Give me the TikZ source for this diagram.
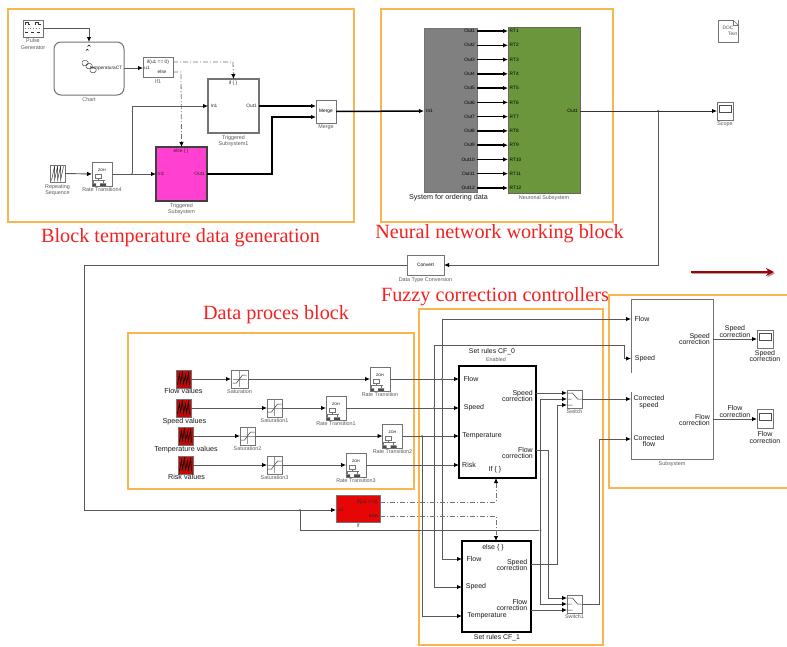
\documentclass[tikz,border=0pt]{standalone}
\usepackage{fontspec}
\setmainfont{Liberation Sans}
\newfontfamily\titlefont{Liberation Serif}
\usepackage{xcolor}
\usepackage{tikz}
\usetikzlibrary{arrows.meta,positioning,calc}

\definecolor{framecol}{HTML}{F9B54E}
\definecolor{titlecol}{HTML}{F52020}
\definecolor{pinkcol}{HTML}{FF40D0}
\definecolor{redcol}{HTML}{E60606}
\definecolor{srccol}{HTML}{C40808}
\definecolor{greycol}{HTML}{808080}
\definecolor{greencol}{HTML}{6B963C}
\newcommand{\zoh}{\raisebox{8pt}{\fontsize{3.6}{4}\selectfont ZOH}}

\begin{document}
\begin{tikzpicture}[x=1pt, y=-1pt,
  frame/.style={draw=framecol, line width=1.3pt},
  title/.style={text=titlecol, font=\titlefont\fontsize{20.2}{22}\selectfont, inner sep=0pt},
  box/.style={draw=black!55, line width=1pt, fill=white, inner sep=0pt, outer sep=0pt, align=center,
              font=\fontsize{4.8}{6}\selectfont},
  heavy/.style={box, draw=black, line width=2pt},
  lab/.style={inner sep=0pt, align=center, text=black!65, font=\fontsize{5.4}{6.6}\selectfont},
  dark/.style={inner sep=0pt, align=center, text=black!90, font=\fontsize{7.2}{8}\selectfont},
  port/.style={inner sep=0pt, align=right, text=black!85, font=\fontsize{4.8}{6}\selectfont},
  portb/.style={inner sep=0pt, align=right, text=black!90, font=\fontsize{7}{6.6}\selectfont},
  dot/.style={circle, fill=black!75, inner sep=0pt, minimum size=2pt},
  sig/.style={draw=black!65, line width=.9pt, -{Latex[length=5pt,width=4.5pt,color=black]}},
  wire/.style={draw=black!65, line width=.9pt},
  bold/.style={draw=black, line width=1.5pt, -{Latex[length=5pt,width=4.5pt,color=black]}},
  ctrl/.style={draw=black!55, line width=.8pt, dash pattern=on 5pt off 2pt on 1pt off 2pt,
               -{Latex[length=5pt,width=4.5pt,color=black]}},
  ratebox/.style={box, minimum width=20pt, minimum height=24pt, path picture={
    \begin{scope}[shift={(path picture bounding box.center)}, line width=.5pt]
      \draw (-3,-5) rectangle (3,-1) (0,-1) -- (0,1) (-7,1) -- (7,1) (-5,1) -- (-5,4) (5,1) -- (5,4);
      \fill[black!70] (-8,4) rectangle (-2,9) (2,4) rectangle (8,9);
    \end{scope}}},
  satbox/.style={box, minimum width=15pt, minimum height=18pt, path picture={
    \begin{scope}[shift={(path picture bounding box.center)}, line width=.5pt]
      \draw[black!40] (0,-8) -- (0,8) (-7,0) -- (7,0);
      \draw[black!80] (-7,4) -- (-3,4) -- (3,-4) -- (7,-4);
    \end{scope}}},
  srcbox/.style={box, fill=srccol, minimum width=15pt, minimum height=18pt, path picture={
    \begin{scope}[shift={(path picture bounding box.center)}, line width=.6pt]
      \draw[black] (-6,6) -- (-4,-5) -- (-3,4) -- (-1,-7) -- (0,5) -- (2,-4) -- (3,5) -- (5,-6) -- (6,6);
    \end{scope}}},
  sawbox/.style={box, minimum width=15pt, minimum height=17pt, path picture={
    \begin{scope}[shift={(path picture bounding box.center)}, line width=.5pt]
      \draw[black!80] (-6,7) -- (-3,-7) -- (-3,7) -- (0,-7) -- (0,7) -- (3,-7) -- (3,7) -- (6,-7);
    \end{scope}}},
  pulsebox/.style={box, minimum width=20pt, minimum height=17pt, path picture={
    \begin{scope}[shift={(path picture bounding box.center)}, line width=.7pt]
      \draw[black!80] (-8,-4) |- (-5,-6) |- (-3,-4) (2,-4) |- (5,-6) |- (8,-4);
      \draw[black!50, dotted] (-8,0) -- (8,0);
      \draw[black!80, line width=1pt] (-8,4) -- (-5,4) (-2,4) -- (1,4) (4,4) -- (7,4);
    \end{scope}}},
  swbox/.style={box, minimum width=15pt, minimum height=18pt, path picture={
    \begin{scope}[shift={(path picture bounding box.center)}, line width=.5pt]
      \draw[black!80] (-7,-6) -- (-2,-6) (-7,6) -- (-2,6) (-7,0) -- (-3,0) (-2,-6) -- (3,0) -- (7,0);
    \end{scope}}},
  scopebox/.style={box, minimum width=16pt, minimum height=18pt, path picture={
    \begin{scope}[shift={(path picture bounding box.center)}, line width=.6pt]
      \draw[black!70] (-6,-6) rectangle (6,1);
    \end{scope}}},
  chartbox/.style={box, rounded corners=7pt, minimum width=70pt, minimum height=53pt, path picture={
    \begin{scope}[shift={(path picture bounding box.center)}, line width=.5pt]
      \draw[black!70, rounded corners=1.5pt] (-7,-8) rectangle (-1,-3) (-3,-5) rectangle (3,0) (1,-1) rectangle (7,4);
      \draw[black] (-1.5,-22) arc (180:360:1.5) (-3,-18) arc (180:360:1.2);
    \end{scope}}}
]
\useasboundingbox (0,0) rectangle (787,646);

% orange frames
\draw[frame] (8,9) rectangle (354,222);
\draw[frame] (381,9) rectangle (613,222);
\draw[frame] (128,333) rectangle (414,489);
\draw[frame] (419,309) rectangle (603,645);
\coordinate (frameNE) at (787,295);
\coordinate (frameSE) at (787,488);
\draw[frame] (frameNE) -- (609,295) -- (609,488) -- (frameSE);

% block temperature data generation
\node[pulsebox] (pulse) at (33,28.5) {};
\node[lab, below=1.5pt of pulse] (pulselab) {Pulse\\Generator};
\node[chartbox] (chart) at (89,68.5) {};
\node[port, anchor=east] (chartout) at (122.5,68) {temperaturaCT};
\node[lab, below=2pt of chart] (chartlab) {Chart};
\node[box, minimum width=30pt, minimum height=20pt] (ifone) at (158,67) {};
\node[port] (ifonecond) at (158,62) {if(u1 == 0)};
\node[port] (ifoneelse) at (162,72) {else};
\node[port] (ifoneu) at (147,68) {u1};
\node[lab, below=2pt of ifone] (ifonelab) {If1};
\node[box, line width=1.4pt, minimum width=51pt, minimum height=54pt] (trigone) at (233.5,106) {};
\node[port] (trigonetop) at (233,83.5) {if \{ \}};
\node[port] (trigonein) at (214,106) {In1};
\node[port, anchor=east] (trigoneout) at (257,106) {Out1};
\node[lab, below=2pt of trigone] (trigonelab) {Triggered\\Subsystem1};
\node[box, fill=pinkcol, draw=black!75, line width=1.4pt, minimum width=51pt, minimum height=54pt] (trigger) at (181.5,174) {};
\node[port] (triggertop) at (181,151) {else \{ \}};
\node[port] (triggerin) at (161,174) {In1};
\node[port, anchor=east] (triggerout) at (205,174) {Out1};
\node[lab, below=2pt of trigger] (triggerlab) {Triggered\\Subsystem};
\node[box, minimum width=20pt, minimum height=23pt] (merge) at (326,111.5) {Merge};
\node[lab, below=2pt of merge] (mergelab) {Merge};
\node[sawbox] (repeating) at (57.5,173.5) {};
\node[lab, below=2pt of repeating] (repeatinglab) {Repeating\\Sequence};
\node[ratebox] (ratefour) at (102,174) {\zoh};
\node[lab, below=1pt of ratefour] (ratefourlab) {Rate Transition4};
\node[dot] (jrate) at (132,174) {};
\coordinate (ifbend) at (233,62);
\coordinate (elsebend) at (181,72);
\coordinate (mergetop) at (316,106);
\coordinate (mergelow) at (316,117);
\coordinate (pulsebend) at (89,28.5);
\coordinate (pinkbend) at (272,174);

\draw[sig] (pulse.east) -- (pulsebend) -- (chart.north);
\draw[sig] (chart.east |- ifoneu) -- (ifone.west |- ifoneu);
\draw[ctrl] (ifone.east |- ifonecond) -- (ifbend) -- (trigone.north);
\draw[ctrl] (ifone.east |- ifoneelse) -- (elsebend) -- (trigger.north);
\draw[sig] (repeating.east) -- (ratefour.west);
\draw[sig] (ratefour.east) -- (trigger.west);
\draw[sig] (jrate) |- (trigone.west);
\draw[bold] (trigone.east) -- (mergetop);
\draw[bold] (trigger.east) -- (pinkbend) |- (mergelow);

% neural network working block
\node[box, fill=greycol, minimum width=53pt, minimum height=164pt] (ordering) at (450.5,110) {};
\node[box, fill=greencol, draw=black!60, minimum width=72pt, minimum height=166pt] (neuronal) at (544,110) {};
\node[port, anchor=west, text=black] (orderingin) at (426,111) {In1};
\node[port, anchor=east, text=black] (neuronalout) at (578,111) {Out1};
\foreach \i in {1,...,12} {
  \node[port, anchor=east, text=black] (out\i) at (475,{31+14.27*(\i-1)}) {Out\i};
  \node[port, anchor=west, text=black] (rt\i) at (509.5,{31+14.27*(\i-1)}) {RT\i};
  \draw[bold] (ordering.east |- out\i) -- (neuronal.west |- rt\i);
}
\node[lab, text=black!90, font=\fontsize{7.2}{8}\selectfont, below=2.5pt of ordering, xshift=-2pt] (orderinglab) {System for ordering data};
\node[lab, below=2pt of neuronal] (neuronallab) {Neuronal Subsystem};
\draw[bold] (merge.east) -- (ordering.west |- orderingin);

\node[scopebox] (scope) at (725,111) {};
\node[lab, below=2pt of scope] (scopelab) {Scope};
\node[box, minimum width=20pt, minimum height=22pt, text=black!70] (doc) at (728,31) {DOC\\\hspace{9pt}Text};
\fill[white] (doc.north east) -- +(-5,0) -- +(0,5) -- cycle;
\draw[black!55, line width=.6pt] ($(doc.north east)+(-5,0)$) -- +(0,5) -- +(5,5);
\draw[black!55, line width=.6pt] ($(doc.north east)+(-5,0)$) -- ($(doc.north east)+(0,5)$);
\node[dot] (jout) at (658,111) {};
\node[box, minimum width=37pt, minimum height=20pt] (convert) at (425.5,265) {Convert};
\node[lab, below=2pt of convert] (convertlab) {Data Type Conversion};
\coordinate (feedbend) at (84,510);
\draw[sig, draw=black!80] (neuronal.east |- neuronalout) -- (scope.west);
\draw[sig] (jout) |- (convert.east);

% red arrow
\coordinate (redstart) at (691,272);
\coordinate (redend) at (774,272);
\draw[draw=black!35, line width=1.6pt, -{Stealth[length=8pt,width=8pt]}] ($(redstart)+(1,1.5)$) -- ($(redend)+(1,1.5)$);
\draw[draw=red!65!black, line width=1.6pt, -{Stealth[length=8pt,width=8pt]}] (redstart) -- (redend);

% data proces block
\node[srcbox] (flowsrc) at (183.5,379) {};
\node[srcbox] (speedsrc) at (183.5,408) {};
\node[srcbox] (tempsrc) at (185.5,436) {};
\node[srcbox] (risksrc) at (185.5,465) {};
\node[dark, below=.5pt of flowsrc] (flowlab) {Flow values};
\node[dark, below=1pt of speedsrc, xshift=1pt] (speedlab) {Speed values};
\node[dark, below=1.5pt of tempsrc, xshift=.5pt] (templab) {Temperature values};
\node[dark, below=0pt of risksrc, xshift=1pt] (risklab) {Risk values};
\node[satbox, minimum width=17pt] (sat) at (239.5,379) {};
\node[satbox] (satone) at (274.5,408) {};
\node[satbox] (sattwo) at (247.5,436) {};
\node[satbox] (satthree) at (274.5,465) {};
\node[lab, below=1.5pt of sat] (satlab) {Saturation};
\node[lab, below=1.5pt of satone] (satonelab) {Saturation1};
\node[lab, below=1.5pt of sattwo] (sattwolab) {Saturation2};
\node[lab, below=1.5pt of satthree] (satthreelab) {Saturation3};
\node[ratebox] (rate) at (380,379) {\zoh};
\node[ratebox] (rateone) at (336,408) {\zoh};
\node[ratebox] (ratetwo) at (392.5,436) {\zoh};
\node[ratebox] (ratethree) at (356,465) {\zoh};
\node[lab, below=1pt of rate] (ratelab) {Rate Transition};
\node[lab, below=1pt of rateone] (rateonelab) {Rate Transition1};
\node[lab, below=1pt of ratetwo] (ratetwolab) {Rate Transition2};
\node[lab, below=1pt of ratethree] (ratethreelab) {Rate Transition3};

% if block
\node[box, fill=redcol, minimum width=44pt, minimum height=27pt] (ifred) at (358,508.5) {};
\node[port, anchor=east] (ifredcond) at (378,502) {if(u1 ==1)};
\node[port, anchor=east] (ifredelse) at (378,516) {else};
\node[port, anchor=west] (ifredu) at (338,510) {u1};
\node[lab, below=1pt of ifred] (ifredlab) {If};
\node[dot] (jif) at (300,510) {};
\draw[wire] (convert.west) -| (feedbend);
\draw[sig] (feedbend) -- (ifred.west |- feedbend);

% fuzzy correction controllers
\node[heavy, minimum width=77pt, minimum height=112pt] (cfa) at (497.5,422) {};
\node[dark, font=\fontsize{6.9}{7}\selectfont] (cfatitle) at (492,352) {Set rules CF\_0};
\node[lab] (cfaenabled) at (496,360) {Enabled};
\node[portb] (cfaflow) at (471,379) {Flow};
\node[portb] (cfaspeed) at (474,408) {Speed};
\node[portb] (cfatemp) at (482,436) {Temperature};
\node[portb] (cfarisk) at (469,464.5) {Risk};
\node[portb] (cfaif) at (495,470) {If \{ \}};
\node[portb, anchor=east] (cfaspd) at (533,396) {Speed\\correction};
\node[portb, anchor=east] (cfaflw) at (533,453) {Flow\\correction};
\node[heavy, minimum width=69pt, minimum height=91pt] (cfb) at (496.5,586.5) {};
\node[portb] (cfbelse) at (493,548) {else \{ \}};
\node[portb] (cfbflow) at (474,559) {Flow};
\node[portb] (cfbspeed) at (476,587) {Speed};
\node[portb] (cfbtemp) at (487,616) {Temperature};
\node[portb, anchor=east] (cfbspd) at (527.5,565) {Speed\\correction};
\node[portb, anchor=east] (cfbflw) at (527.5,605) {Flow\\correction};
\node[dark, font=\fontsize{6.9}{7}\selectfont] (cfbtitle) at (497,638) {Set rules CF\_1};
\node[swbox] (switcha) at (574.5,399) {};
\node[swbox] (switchb) at (574.5,604) {};
\node[lab, below=1.5pt of switcha] (switchalab) {Switch};
\node[lab, below=1.5pt of switchb] (switchblab) {Switch1};
\node[dot] (jflow) at (442,379) {};
\node[dot] (jspeed) at (434,408) {};
\node[dot] (jtemp) at (422,436) {};
\node[dot] (jctrl) at (540.5,530) {};
\coordinate (speedbend) at (624,345);
\coordinate (ifctrl) at (496,502);
\coordinate (elsectrl) at (496,516);
\coordinate (swatop) at ($(switcha.west)+(0,-6)$);
\coordinate (swabot) at ($(switcha.west)+(0,6)$);
\coordinate (swbtop) at ($(switchb.west)+(0,-6)$);
\coordinate (swbbot) at ($(switchb.west)+(0,6)$);
\coordinate (flowbend) at (548,450);
\coordinate (spdbend) at (557,564);
\coordinate (corrbend) at (599,439);

\draw[sig] (flowsrc) -- (sat);
\draw[sig] (sat) -- (rate);
\draw[sig] (speedsrc) -- (satone);
\draw[sig] (satone) -- (rateone);
\draw[sig] (tempsrc) -- (sattwo);
\draw[sig] (sattwo) -- (ratetwo);
\draw[sig] (risksrc) -- (satthree);
\draw[sig] (satthree) -- (ratethree);
\draw[sig] (rate) -- (cfa.west |- rate);
\draw[sig] (rateone) -- (cfa.west |- rateone);
\draw[sig] (ratetwo) -- (cfa.west |- ratetwo);
\draw[sig] (ratethree) -- (cfa.west |- ratethree);
\draw[sig] (jflow) |- (cfb.west |- cfbflow);
\draw[sig] (jspeed) |- (cfb.west |- cfbspeed);
\draw[sig] (jtemp) |- (cfb.west |- cfbtemp);
\draw[wire] (jif) |- (jctrl);
\draw[sig] (jctrl) |- (switcha.west);
\draw[sig] (jctrl) |- (switchb.west);
\draw[ctrl] (ifred.east |- ifctrl) -- (ifctrl) -- (cfa.south -| ifctrl);
\draw[ctrl] (ifred.east |- elsectrl) -- (elsectrl) -- (cfb.north -| elsectrl);
\draw[sig] (cfa.east |- swatop) -- (swatop);
\draw[sig] (cfa.east |- flowbend) -- (flowbend) |- (swbtop);
\draw[sig] (cfb.east |- spdbend) -- (spdbend) |- (swabot);
\draw[sig] (cfb.east |- swbbot) -- (swbbot);

% subsystem
\node[inner sep=0pt, outer sep=0pt, minimum width=82pt, minimum height=160pt] (subsys) at (672,379) {};
\coordinate (gaptop) at (631,373);
\coordinate (gapbot) at (631,392);
\draw[draw=black!55, line width=1pt] (gaptop) -- (subsys.north west) -- (subsys.north east) -- (subsys.south east) -- (subsys.south west) -- (gapbot);
\node[lab, below=2.5pt of subsys] (subsyslab) {Subsystem};
\node[portb] (subflow) at (642,319) {Flow};
\node[portb] (subspeed) at (645,358.5) {Speed};
\node[portb, align=center] (subcorrs) at (649,402) {Corrected\\speed};
\node[portb, align=center] (subcorrf) at (649,441) {Corrected\\flow};
\node[portb, anchor=east] (subspd) at (710,339) {Speed\\correction};
\node[portb, anchor=east] (subflw) at (710,420) {Flow\\correction};
\node[scopebox] (scopespd) at (765,339) {};
\node[scopebox, minimum height=19pt] (scopeflw) at (765,419) {};
\node[portb, align=center, below=2pt of scopespd] (scopespdlab) {Speed\\correction};
\node[portb, align=center, below=3pt of scopeflw] (scopeflwlab) {Flow\\correction};
\draw[sig] (jflow) |- (subsys.west |- subflow);
\draw[sig] (jspeed) |- (speedbend) |- (subsys.west |- subspeed);
\draw[sig] (switcha.east) -- (subsys.west |- switcha.east);
\draw[sig] (switchb.east) -| (corrbend) -- (subsys.west |- corrbend);
\draw[sig] (subsys.east |- scopespd) -- node[portb, align=center, above=1pt] (lblspd) {Speed\\correction} (scopespd.west);
\draw[sig] (subsys.east |- scopeflw) -- node[portb, align=center, above=1pt] (lblflw) {Flow\\correction} (scopeflw.west);

% titles
\node[title] (titleblock) at (180.5,238) {Block temperature data generation};
\node[title] (titleneural) at (499.5,234) {Neural network working block};
\node[title] (titlefuzzy) at (495,297) {Fuzzy correction controllers};
\node[title] (titledata) at (276,315) {Data proces block};
\end{tikzpicture}
\end{document}
